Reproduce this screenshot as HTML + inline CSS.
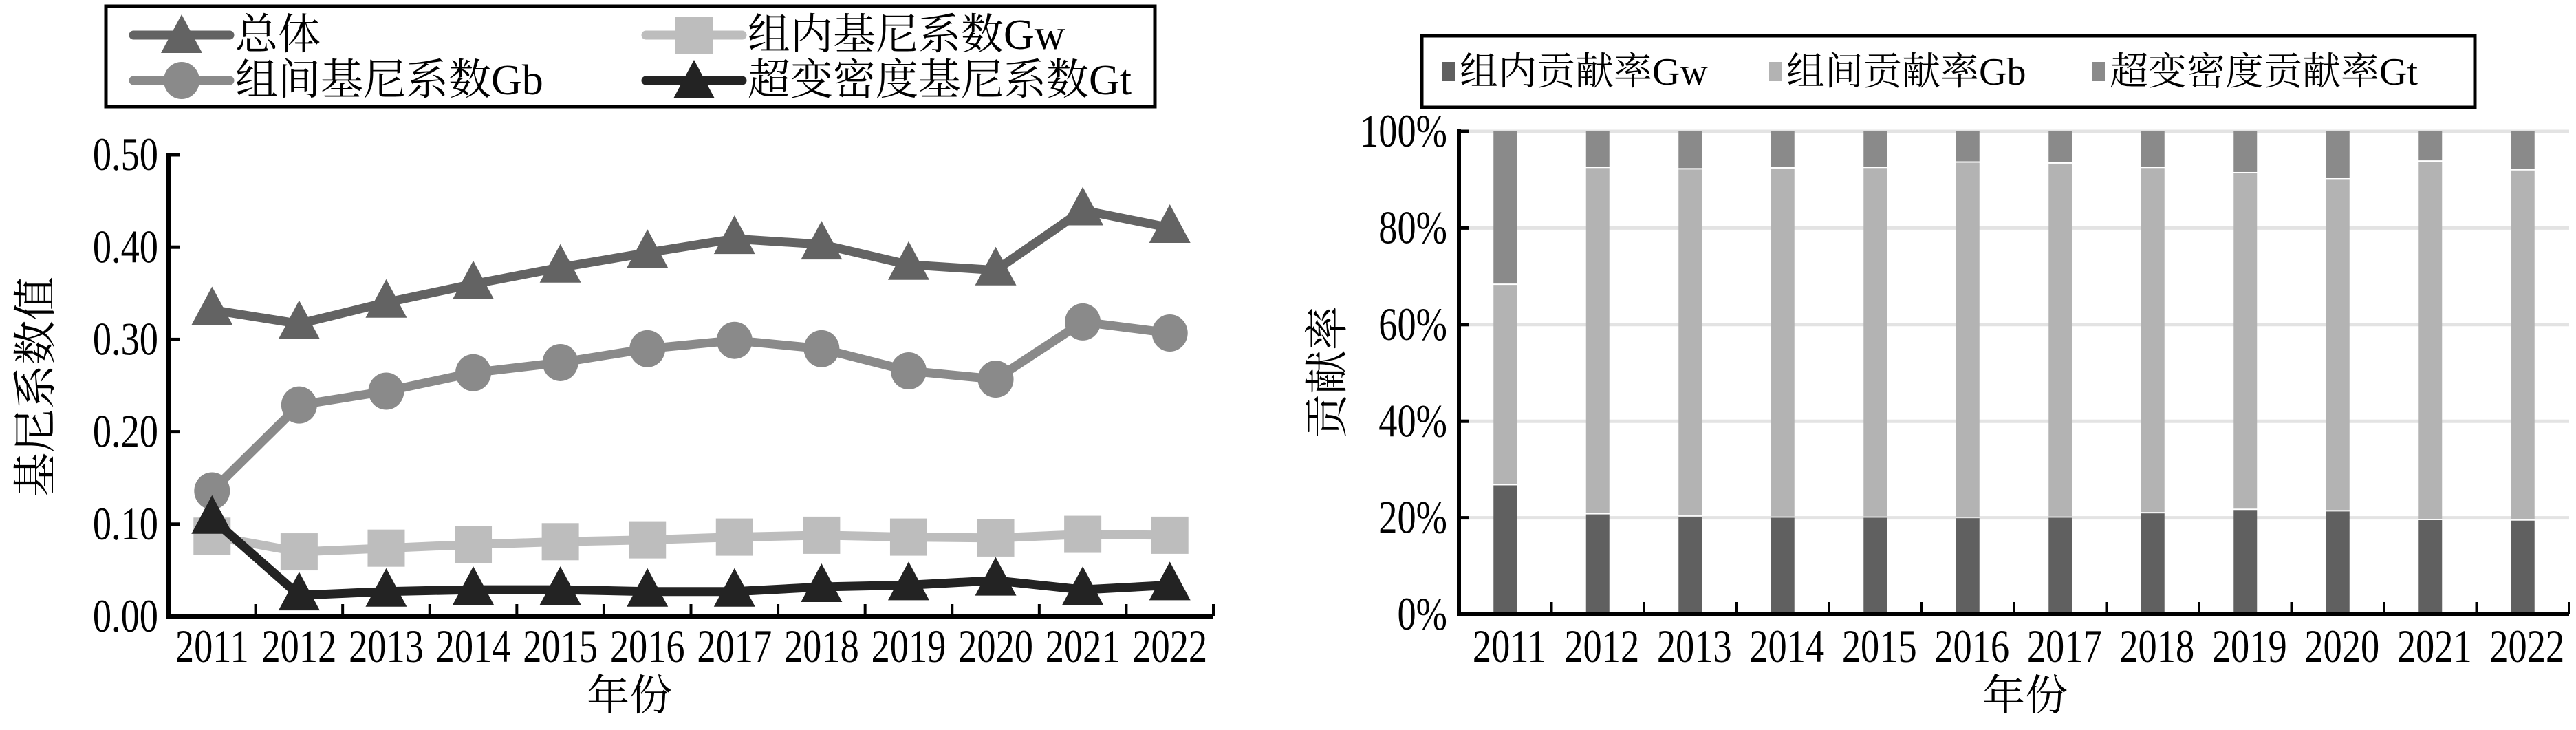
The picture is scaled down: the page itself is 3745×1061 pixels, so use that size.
<!DOCTYPE html>
<html><head><meta charset="utf-8"><style>
html,body{margin:0;padding:0;background:#fff;}
svg{display:block;}
text{font-family:"Liberation Serif","Noto Serif CJK SC",serif;fill:#000;}
</style></head><body>
<svg id="svg" width="3745" height="1061" viewBox="0 0 3745 1061" xmlns="http://www.w3.org/2000/svg">
<g id="left"></g>
<g id="right"></g>
</svg>
<script>
const years = ['2011','2012','2013','2014','2015','2016','2017','2018','2019','2020','2021','2022'];
const giniTotal = [0.332,0.317,0.340,0.360,0.378,0.394,0.409,0.403,0.381,0.375,0.440,0.421];
const giniGw = [0.087,0.070,0.074,0.078,0.081,0.083,0.086,0.088,0.086,0.085,0.089,0.088];
const giniGb = [0.136,0.229,0.244,0.264,0.275,0.290,0.299,0.290,0.266,0.257,0.319,0.307];
const giniGt = [0.106,0.023,0.027,0.029,0.029,0.027,0.027,0.032,0.034,0.039,0.029,0.034];
const leftTicks = ['0.00','0.10','0.20','0.30','0.40','0.50'];
const shareGw = [27.0,21.0,20.5,20.3,20.3,20.2,20.3,21.2,21.9,21.6,19.8,19.7];
const shareGb = [41.5,71.7,71.9,72.3,72.4,73.6,73.3,71.5,69.7,68.8,74.2,72.5];
const shareGt = [31.5,7.3,7.6,7.4,7.3,6.2,6.4,7.3,8.4,9.6,6.0,7.8];
const rightTicks = ['0%','20%','40%','60%','80%','100%'];

const NS='http://www.w3.org/2000/svg';
function mk(parent,tag,attrs){const e=document.createElementNS(NS,tag);for(const k in attrs)e.setAttribute(k,attrs[k]);parent.appendChild(e);return e;}
function txt(parent,x,y,s,size,anchor,sx){const e=mk(parent,'text',{transform:`translate(${x},${y}) scale(${sx},1)`,'font-size':size,'text-anchor':anchor,'dominant-baseline':'central'});e.textContent=s;return e;}

// ---------- LEFT ----------
const L=document.getElementById('left');
const lx0=245,lx1=1764,ly0=896,ly1=225,band=(lx1-lx0)/years.length;
const xL=i=>lx0+band*(i+0.5);
const yL=v=>ly0-(v/0.5)*(ly0-ly1);
let a=mk(L,'line',{x1:lx0,y1:ly1-3,x2:lx0,y2:ly0,stroke:'#000','stroke-width':6});

a=mk(L,'line',{x1:lx0-3,y1:ly0,x2:lx1,y2:ly0,stroke:'#000','stroke-width':6});

leftTicks.forEach((t,i)=>{const v=parseFloat(t);const y=yL(v);
 const tk=mk(L,'line',{x1:lx0,y1:y,x2:lx0+16,y2:y,stroke:'#000','stroke-width':5});
 
 const e=txt(L,230,y,t,68,'end',0.8);
 });
for(let i=1;i<=years.length;i++){const x=lx0+band*i;
 const tk=mk(L,'line',{x1:x,y1:ly0,x2:x,y2:ly0-18,stroke:'#000','stroke-width':4});
 }
years.forEach((y,i)=>{const e=txt(L,xL(i),940,y,68,'middle',0.8);
 });
let t=txt(L,0,0,'基尼系数值',64,'middle',1);
t.setAttribute('transform','translate(52,562) rotate(-90)');

t=txt(L,915,1012,'年份',62,'middle',1);


function marker(g,type,x,y,color){
 let m;
 if(type==='tri') m=mk(g,'polygon',{points:`${x},${y-34} ${x-30},${y+22} ${x+30},${y+22}`,fill:color});
 else if(type==='circ') m=mk(g,'ellipse',{cx:x,cy:y,rx:26,ry:27,fill:color});
 else m=mk(g,'rect',{x:x-27,y:y-27,width:54,height:54,fill:color});
 return m;}
const series=[
 {name:'series-gw',vals:giniGw,color:'#bdbdbd',m:'sq'},
 {name:'series-gb',vals:giniGb,color:'#8a8a8a',m:'circ'},
 {name:'series-total',vals:giniTotal,color:'#636363',m:'tri'},
 {name:'series-gt',vals:giniGt,color:'#232323',m:'tri'}];
series.forEach(s=>{const g=mk(L,'g',{});
 
 const p=mk(g,'polyline',{points:s.vals.map((v,i)=>xL(i)+','+yL(v)).join(' '),fill:'none',stroke:s.color,'stroke-width':13,'stroke-linejoin':'round'});
 
 s.vals.forEach((v,i)=>{const m=marker(g,s.m,xL(i),yL(v),s.color);
  });});
// legend left
const LG=mk(L,'g',{});
mk(LG,'rect',{x:154,y:9,width:1525,height:146,fill:'#fff',stroke:'#000','stroke-width':5});
[[194,51,'总体','#636363','tri'],[939,51,'组内基尼系数Gw','#bdbdbd','sq'],[194,117,'组间基尼系数Gb','#8a8a8a','circ'],[939,117,'超变密度基尼系数Gt','#232323','tri']].forEach(e=>{
 const g=mk(LG,'g',{});
 mk(g,'line',{x1:e[0],y1:e[1],x2:e[0]+140,y2:e[1],stroke:e[3],'stroke-width':13,'stroke-linecap':'round'});
 marker(g,e[4],e[0]+70,e[1]+(e[4]==='tri'?4:0),e[3]);
 txt(g,e[0]+148,e[1],e[2],62,'start',1);});

// ---------- RIGHT ----------
const R=document.getElementById('right');
const rx0=2121,rx1=3735,ry0=893,ry1=191,rband=(rx1-rx0)/years.length;
const xR=i=>rx0+rband*(i+0.5);
const yR=v=>ry0-(v/100)*(ry0-ry1);
rightTicks.forEach((tk,i)=>{const v=parseFloat(tk);const y=yR(v);
 if(v>0){const gl=mk(R,'line',{x1:rx0,y1:y,x2:rx1,y2:y,stroke:'#e3e3e3','stroke-width':5});
  }
 const tm=mk(R,'line',{x1:rx0,y1:y,x2:rx0+14,y2:y,stroke:'#000','stroke-width':5});
 
 const e=txt(R,2104,y,tk,68,'end',0.8);
 });
const segs=[[shareGw,'#606060','bar-gw'],[shareGb,'#b3b3b3','bar-gb'],[shareGt,'#8a8a8a','bar-gt']];
years.forEach((y,i)=>{let base=0;
 segs.forEach(s=>{const v=s[0][i];const top=base+v;
  const r=mk(R,'rect',{x:xR(i)-17,y:yR(top)+(top<100?2:0),width:34,height:Math.max(0,yR(base)-yR(top)-(top<100?2:0)),fill:s[1]});
  
  base=top;});});
a=mk(R,'line',{x1:rx0,y1:ry1-4,x2:rx0,y2:ry0,stroke:'#000','stroke-width':6});

a=mk(R,'line',{x1:rx0-3,y1:ry0,x2:rx1,y2:ry0,stroke:'#000','stroke-width':6});

for(let i=1;i<=years.length;i++){const x=rx0+rband*i;
 const tk=mk(R,'line',{x1:x,y1:ry0,x2:x,y2:ry0-18,stroke:'#000','stroke-width':4});
 }
years.forEach((y,i)=>{const e=txt(R,xR(i)+6,940,y,68,'middle',0.8);
 });
t=txt(R,0,0,'贡献率',64,'middle',1);
t.setAttribute('transform','translate(1930,541) rotate(-90)');

t=txt(R,2944,1012,'年份',62,'middle',1);

const RG=mk(R,'g',{});
mk(RG,'rect',{x:2067,y:52,width:1531,height:104,fill:'#fff',stroke:'#000','stroke-width':5});
[[2106,'组内贡献率Gw','#606060'],[2581,'组间贡献率Gb','#b3b3b3'],[3051,'超变密度贡献率Gt','#8a8a8a']].forEach(e=>{
 const g=mk(RG,'g',{});
 mk(g,'rect',{x:e[0]-9,y:90,width:18,height:28,fill:e[2]});
 txt(g,e[0]+16,105,e[1],56,'start',1);});
</script>
</body></html>
